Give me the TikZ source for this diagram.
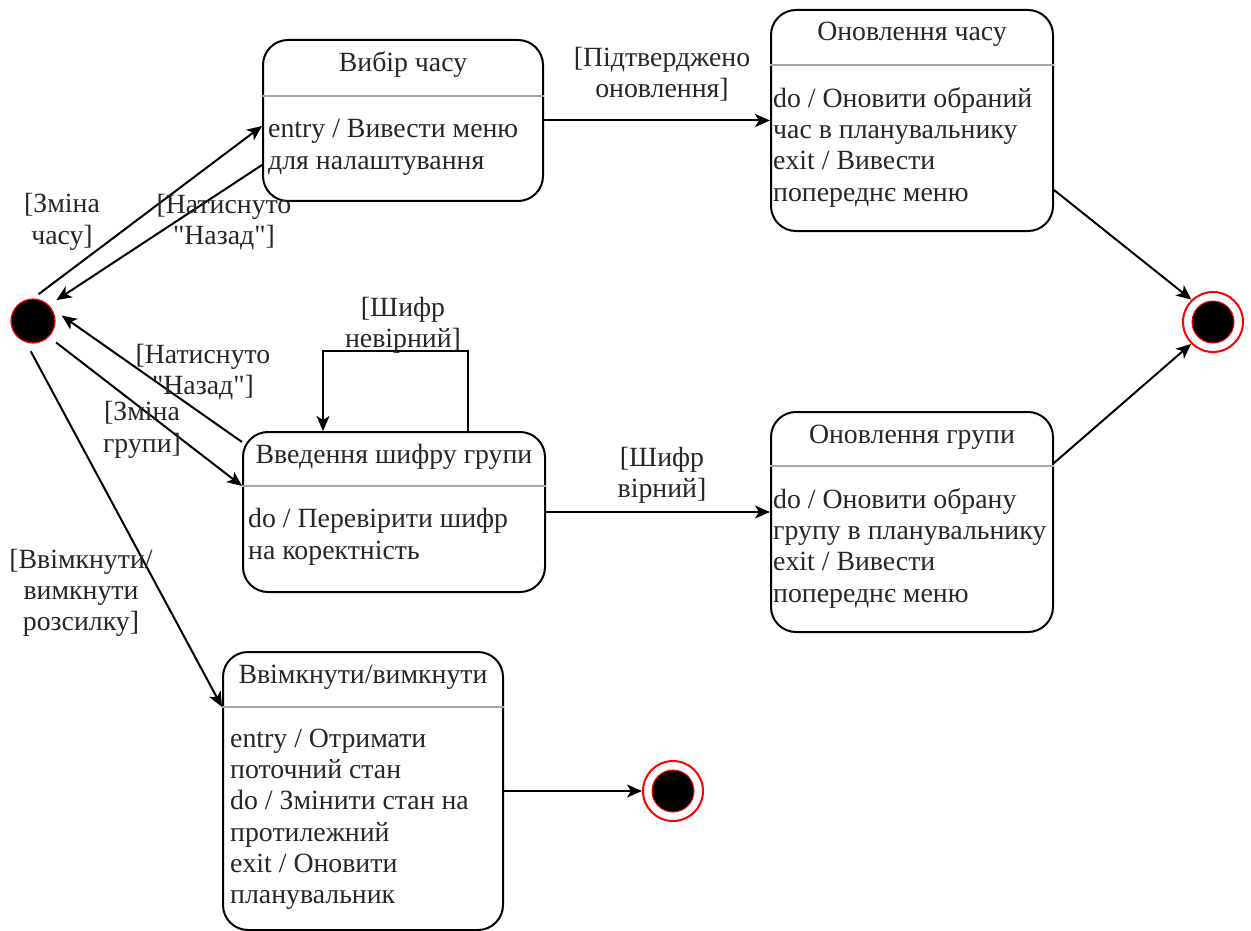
\documentclass[tikz,border=0pt]{standalone}
\usepackage{fontspec}
\setmainfont{Liberation Serif}
\newfontfamily\dfam{Liberation Serif}
\usetikzlibrary{arrows.meta,calc}
\newcommand{\dfont}{\dfam\fontsize{27.8}{31.3}\selectfont}
\begin{document}
\begin{tikzpicture}[x=1pt,y=-1pt,
  sbox/.style={draw, rounded corners=25pt, line width=2pt, inner sep=0pt},
  stitle/.style={anchor=base, font=\dfont, inner sep=0pt, text=black!85},
  sbody/.style={anchor=north west, align=left, font=\dfont, inner sep=0pt, text=black!85},
  lbl/.style={align=center, font=\dfont, inner sep=0pt, text=black!85},
  arr/.style={line width=2pt, -{Stealth[length=15pt,width=13pt,inset=4pt]}},
  divl/.style={draw=black!35, line width=2pt},
  initst/.style={circle, draw=red, fill=black, line width=1.2pt, minimum size=44pt, inner sep=0pt},
  finout/.style={circle, draw=red, line width=2pt, minimum size=60pt, inner sep=0pt},
  finin/.style={circle, draw=red, fill=black, line width=1pt, minimum size=42pt, inner sep=0pt}]
\useasboundingbox (0,0) rectangle (1251,931);

% states
\node[initst] (init) at (33,321) {};
\node[finout] (fin1) at (1213,322) {};
\node[finin] (fin1c) at (fin1) {};
\node[finout] (fin2) at (673,791) {};
\node[finin] (fin2c) at (fin2) {};

% Вибір часу
\node[sbox, minimum width=280pt, minimum height=161pt] (b1) at (403,120.5) {};
\draw[divl] (b1.west |- 0,96) -- (b1.east |- 0,96);
\node[stitle] (b1t) at (403,72) {Вибір часу};
\node[sbody] (b1b) at (268,115.6) {\strut entry / Вивести меню\\для налаштування};

% Оновлення часу
\node[sbox, minimum width=282pt, minimum height=221pt] (b2) at (912,120.5) {};
\draw[divl] (b2.west |- 0,65) -- (b2.east |- 0,65);
\node[stitle] (b2t) at (912,41) {Оновлення часу};
\node[sbody] (b2b) at (773,85) {\strut do / Оновити обраний\\час в планувальнику\\exit / Вивести\\попереднє меню};

% Введення шифру групи
\node[sbox, minimum width=302pt, minimum height=160pt] (b3) at (394,512) {};
\draw[divl] (b3.west |- 0,486) -- (b3.east |- 0,486);
\node[stitle] (b3t) at (394,463) {Введення шифру групи};
\node[sbody] (b3b) at (248,505.6) {\strut do / Перевірити шифр\\на коректність};

% Оновлення групи
\node[sbox, minimum width=282pt, minimum height=220pt] (b4) at (912,522) {};
\draw[divl] (b4.west |- 0,466) -- (b4.east |- 0,466);
\node[stitle] (b4t) at (912,443) {Оновлення групи};
\node[sbody] (b4b) at (773,486) {\strut do / Оновити обрану\\групу в планувальнику\\exit / Вивести\\попереднє меню};

% Ввімкнути/вимкнути
\node[sbox, minimum width=280pt, minimum height=278pt] (b5) at (363,791) {};
\draw[divl] (b5.west |- 0,707) -- (b5.east |- 0,707);
\node[stitle] (b5t) at (363,683) {Ввімкнути/вимкнути};
\node[sbody] (b5b) at (230,725.1) {\strut entry / Отримати\\поточний стан\\do / Змінити стан на\\протилежний\\exit / Оновити\\планувальник};

% connectors
\draw[arr, shorten <=7pt] (init.north) -- ([yshift=-5.5pt]b1.west);
\draw[arr, shorten >=9pt] ([yshift=-44.5pt]b1.west) -- (init.45);
\draw[arr, shorten >=12pt] ([yshift=70pt]b3.west) -- (init.33);
\draw[arr, shorten <=9pt] (init.-45) -- ([yshift=26pt]b3.west);
\draw[arr, shorten <=10pt] (init.-108) -- ([yshift=84pt]b5.west);
\draw[arr] ([xshift=74pt]b3.north) -- ++(0,-80) -| ([xshift=-71pt]b3.north);
\draw[arr] (b1.east) -- (b2.west);
\draw[arr] (b3.east) -- (b3.east -| b4.west);
\draw[arr] ([yshift=-69.5pt]b2.east) -- (fin1.134);
\draw[arr] ([yshift=59pt]b4.east) -- (fin1.225);
\draw[arr] (b5.east) -- (fin2);

% labels
\node[lbl] (l1) at (62,222) {[Зміна\\часу]};
\node[lbl] (l2) at (224,222) {[Натиснуто\\"Назад"]};
\node[lbl] (l3) at (203,372) {[Натиснуто\\"Назад"]};
\node[lbl] (l4) at (142,430) {[Зміна\\групи]};
\node[lbl] (l5) at (403,325) {[Шифр\\невірний]};
\node[lbl] (l6) at (662,74) {[Підтверджено\\оновлення]};
\node[lbl] (l7) at (662,475) {[Шифр\\вірний]};
\node[lbl] (l8) at (81,593) {[Ввімкнути/\\вимкнути\\розсилку]};
\end{tikzpicture}
\end{document}
